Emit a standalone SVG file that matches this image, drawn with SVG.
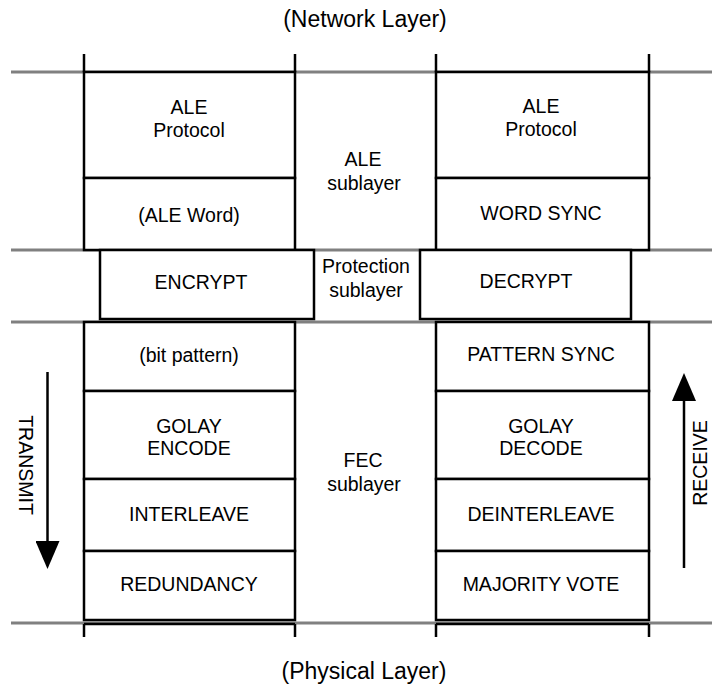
<svg xmlns="http://www.w3.org/2000/svg" width="712" height="689" viewBox="0 0 712 689">
  <style>
    text { font-family: "Liberation Sans", Arial, sans-serif; fill: #000; text-anchor: middle; }
    .box { font-size: 19.5px; }
    .layer { font-size: 23px; }
    .rule { stroke: #808080; stroke-width: 3; fill: none; }
    .edge { stroke: #000; stroke-width: 2.5; fill: none; }
    .cell { stroke: #000; stroke-width: 2.5; fill: #fff; }
    .flow { stroke: #000; stroke-width: 2.5; fill: none; }
  </style>
  <defs>
    <!-- solid triangular head, tip 10px past the line end -->
    <marker id="head" viewBox="0 0 28 24" refX="18" refY="12" markerWidth="28" markerHeight="24" markerUnits="userSpaceOnUse" orient="auto">
      <path d="M0,0 L28,12 L0,24 Z" fill="#000"/>
    </marker>
  </defs>
  <rect width="712" height="689" fill="#fff"/>

  <!-- layer boundaries -->
  <g id="rules">
    <line class="rule" x1="11" y1="72" x2="712" y2="72"/>
    <line class="rule" x1="11" y1="250" x2="712" y2="250"/>
    <line class="rule" x1="11" y1="322" x2="712" y2="322"/>
    <line class="rule" x1="11" y1="623" x2="712" y2="623"/>
  </g>

  <text class="layer" x="365" y="27">(Network Layer)</text>
  <text class="layer" x="364" y="679">(Physical Layer)</text>

  <!-- transmit column -->
  <g id="tx-stubs">
    <line class="edge" x1="84" y1="54" x2="84" y2="72"/>
    <line class="edge" x1="295" y1="54" x2="295" y2="72"/>
    <line class="edge" x1="84" y1="624" x2="295" y2="624"/>
    <line class="edge" x1="84" y1="624" x2="84" y2="637"/>
    <line class="edge" x1="295" y1="624" x2="295" y2="637"/>
  </g>
  <g id="ale-protocol-tx">
    <rect class="cell" x="84" y="72" width="211" height="106"/>
    <text class="box" x="189" y="114">ALE</text>
    <text class="box" x="189" y="137">Protocol</text>
  </g>
  <g id="ale-word">
    <rect class="cell" x="84" y="178" width="211" height="72"/>
    <text class="box" x="189" y="222">(ALE Word)</text>
  </g>
  <g id="encrypt">
    <rect class="cell" x="100" y="250" width="214" height="69"/>
    <text class="box" x="201" y="289">ENCRYPT</text>
  </g>
  <g id="bit-pattern">
    <rect class="cell" x="84" y="322" width="211" height="69"/>
    <text class="box" x="189" y="362">(bit pattern)</text>
  </g>
  <g id="golay-encode">
    <rect class="cell" x="84" y="391" width="211" height="88"/>
    <text class="box" x="189" y="433">GOLAY</text>
    <text class="box" x="189" y="455">ENCODE</text>
  </g>
  <g id="interleave">
    <rect class="cell" x="84" y="479" width="211" height="72"/>
    <text class="box" x="189" y="521">INTERLEAVE</text>
  </g>
  <g id="redundancy">
    <rect class="cell" x="84" y="551" width="211" height="69"/>
    <text class="box" x="189" y="591">REDUNDANCY</text>
  </g>

  <!-- receive column -->
  <g id="rx-stubs">
    <line class="edge" x1="436" y1="54" x2="436" y2="72"/>
    <line class="edge" x1="649" y1="54" x2="649" y2="72"/>
    <line class="edge" x1="436" y1="624" x2="649" y2="624"/>
    <line class="edge" x1="436" y1="624" x2="436" y2="637"/>
    <line class="edge" x1="649" y1="624" x2="649" y2="637"/>
  </g>
  <g id="ale-protocol-rx">
    <rect class="cell" x="436" y="72" width="213" height="106"/>
    <text class="box" x="541" y="113">ALE</text>
    <text class="box" x="541" y="136">Protocol</text>
  </g>
  <g id="word-sync">
    <rect class="cell" x="436" y="178" width="213" height="72"/>
    <text class="box" x="541" y="220">WORD SYNC</text>
  </g>
  <g id="decrypt">
    <rect class="cell" x="420" y="250" width="211" height="69"/>
    <text class="box" x="526" y="288">DECRYPT</text>
  </g>
  <g id="pattern-sync">
    <rect class="cell" x="436" y="322" width="213" height="69"/>
    <text class="box" x="541" y="361">PATTERN SYNC</text>
  </g>
  <g id="golay-decode">
    <rect class="cell" x="436" y="391" width="213" height="88"/>
    <text class="box" x="541" y="433">GOLAY</text>
    <text class="box" x="541" y="455">DECODE</text>
  </g>
  <g id="deinterleave">
    <rect class="cell" x="436" y="479" width="213" height="72"/>
    <text class="box" x="541" y="521">DEINTERLEAVE</text>
  </g>
  <g id="majority-vote">
    <rect class="cell" x="436" y="551" width="213" height="69"/>
    <text class="box" x="541" y="591">MAJORITY VOTE</text>
  </g>

  <!-- sublayer labels -->
  <g id="ale-sublayer">
    <text class="box" x="363" y="166">ALE</text>
    <text class="box" x="364" y="190">sublayer</text>
  </g>
  <g id="protection-sublayer">
    <text class="box" x="366" y="273">Protection</text>
    <text class="box" x="366" y="297">sublayer</text>
  </g>
  <g id="fec-sublayer">
    <text class="box" x="363" y="467">FEC</text>
    <text class="box" x="364" y="491">sublayer</text>
  </g>

  <!-- direction arrows -->
  <g id="connectors">
    <line class="flow" x1="47.5" y1="372" x2="47.5" y2="559" marker-end="url(#head)"/>
    <line class="flow" x1="684" y1="568" x2="684" y2="383" marker-end="url(#head)"/>
  </g>
  <text class="box" transform="translate(26,465) rotate(90)" dy="7">TRANSMIT</text>
  <text class="box" transform="translate(700,463) rotate(-90)" dy="7">RECEIVE</text>
</svg>
